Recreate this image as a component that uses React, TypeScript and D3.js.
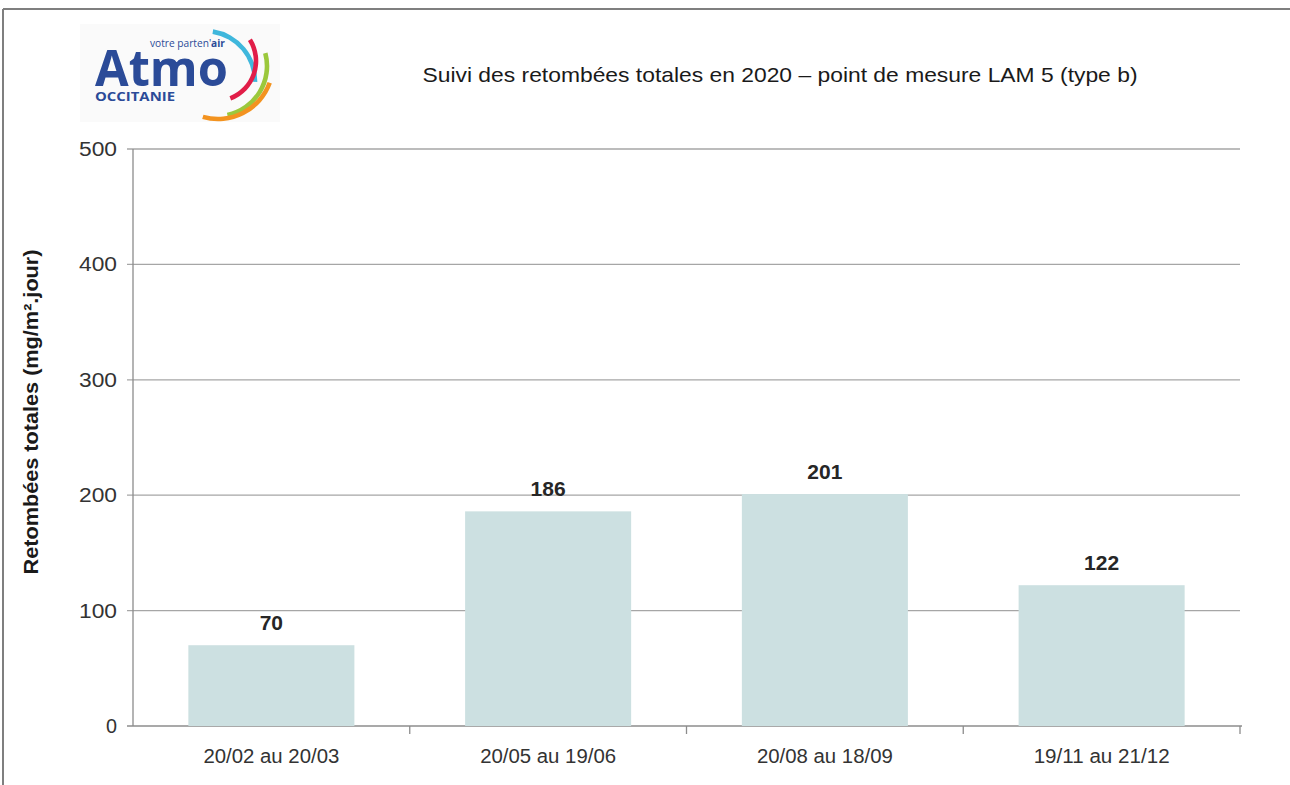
import React from "react";
import * as d3 from "d3";

const categories = ["20/02 au 20/03", "20/05 au 19/06", "20/08 au 18/09", "19/11 au 21/12"];
const values = [70, 186, 201, 122];
const yTicks = [0, 100, 200, 300, 400, 500];
const title = "Suivi des retombées totales en 2020 – point de mesure LAM 5 (type b)";
const yLabel = "Retombées totales (mg/m².jour)";

const W = 1290, H = 785;
const left = 133, right = 1240, top = 149, bottom = 726;

export default function App() {
  const x = d3.scaleBand<string>().domain(categories).range([left, right]).paddingInner(0.4).paddingOuter(0.2);
  const xb = d3.scaleBand<string>().domain(categories).range([left, right]);
  const y = d3.scaleLinear().domain([0, 500]).range([bottom, top]);
  const font = "'Liberation Sans', Arial, sans-serif";
  const arc = (r: number, a0: number, a1: number) =>
    d3.arc()({ innerRadius: r - 2.3, outerRadius: r + 2.3, startAngle: (a0 * Math.PI) / 180, endAngle: (a1 * Math.PI) / 180 }) || "";
  return (
    <svg width={W} height={H} style={{ position: "absolute", left: 0, top: 0, background: "#fff" }} fontFamily={font}>
      <rect x={0} y={0} width={W} height={H} fill="#fff" />
      <line x1={3} y1={9} x2={W} y2={9} stroke="#7f7f7f" strokeWidth={2} />
      <line x1={3} y1={9} x2={3} y2={H} stroke="#7f7f7f" strokeWidth={2} />
      {/* logo */}
      <g>
        <rect x={80} y={24} width={200} height={98} fill="#fafafa" />
        <text x={95} y={86} fontSize={50} fontWeight="bold" fill="#2b4b98" fontFamily="'Open Sans', sans-serif" textLength={133} lengthAdjust="spacingAndGlyphs">Atmo</text>
        <text x={150} y={47} fontSize={10} fill="#2b4b98" fontFamily="'Open Sans', sans-serif" textLength={75} lengthAdjust="spacingAndGlyphs">votre parten'<tspan fontWeight="bold">air</tspan></text>
        <text x={95} y={101} fontSize={13} fontWeight="bold" fill="#2b4b98" fontFamily="'Open Sans', sans-serif" textLength={80} lengthAdjust="spacingAndGlyphs">OCCITANIE</text>
        <g transform="translate(205,81)">
          <path d={arc(50, 9, 91)} fill="#3fb7dc" />
        </g>
        <g transform="translate(216,61)">
          <path d={arc(40, 58, 159)} fill="#e11d48" />
        </g>
        <g transform="translate(217,66)">
          <path d={arc(50, 75, 168)} fill="#9bc83c" />
        </g>
        <g transform="translate(218,64)">
          <path d={arc(55, 110, 196)} fill="#f39320" />
        </g>
      </g>
      <text x={780} y={82} fontSize={21} fill="#1a1a1a" textAnchor="middle" textLength={715} lengthAdjust="spacingAndGlyphs">{title}</text>
      {/* gridlines */}
      {yTicks.map((t) => (
        <g key={t}>
          <line x1={left - 6} x2={t === 0 ? right + 2 : right} y1={y(t)} y2={y(t)} stroke={t === 0 ? "#8c8c8c" : "#a6a6a6"} strokeWidth={1.3} />
          <text x={117} y={y(t) + 7} fontSize={20} fill="#333" textAnchor="end" textLength={t === 0 ? 11 : 38} lengthAdjust="spacingAndGlyphs">{t}</text>
        </g>
      ))}
      <line x1={left} x2={left} y1={top} y2={bottom} stroke="#8c8c8c" strokeWidth={1.3} />
      {categories.map((c) => (
        <line key={c} x1={(xb(c) || 0) + xb.bandwidth()} x2={(xb(c) || 0) + xb.bandwidth()} y1={bottom} y2={bottom + 8} stroke="#8c8c8c" strokeWidth={1.3} />
      ))}
      {categories.map((c, i) => (
        <g key={c}>
          <rect x={x(c)} y={y(values[i])} width={x.bandwidth()} height={bottom - y(values[i])} fill="#cce0e1" />
          <text x={(x(c) || 0) + x.bandwidth() / 2} y={y(values[i]) - 15} fontSize={21} fontWeight="bold" fill="#262626" textAnchor="middle">{values[i]}</text>
          <text x={(xb(c) || 0) + xb.bandwidth() / 2} y={763} fontSize={20} fill="#333" textAnchor="middle" textLength={136} lengthAdjust="spacingAndGlyphs">{c}</text>
        </g>
      ))}
      <text transform={`translate(38,412) rotate(-90)`} fontSize={20} fontWeight="bold" fill="#1a1a1a" textAnchor="middle" textLength={325} lengthAdjust="spacingAndGlyphs">{yLabel}</text>
    </svg>
  );
}
